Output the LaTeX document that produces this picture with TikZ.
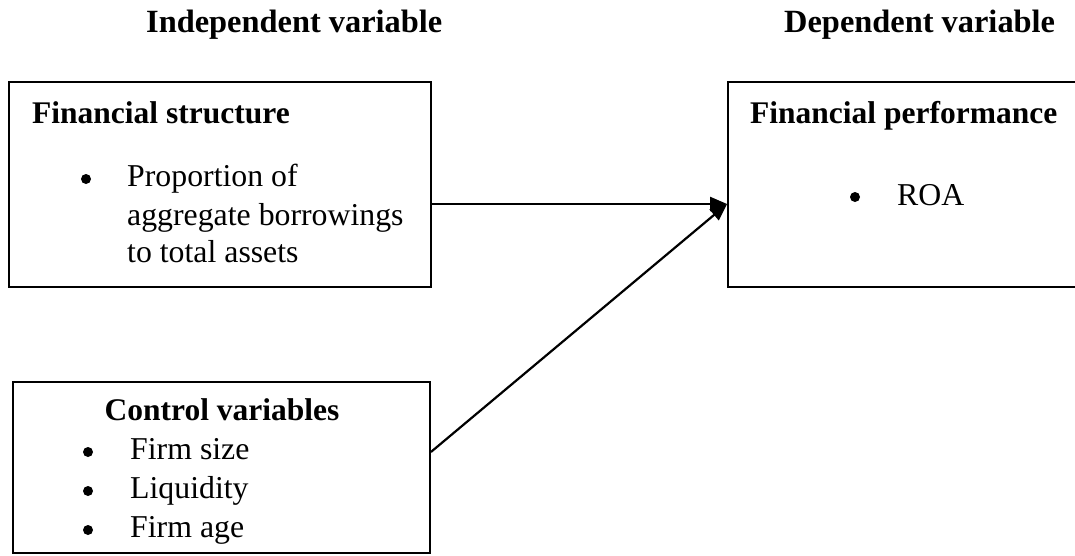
\documentclass[tikz,border=0pt]{standalone}
\usepackage{fontspec}
\setmainfont{Liberation Serif}
\usetikzlibrary{arrows.meta}
\begin{document}
\begin{tikzpicture}[x=1pt,y=-1pt,
  box/.style={draw,line width=1.8pt,inner sep=0pt,rectangle},
  txt/.style={anchor=base west,inner sep=0pt,font=\fontsize{31.8}{39}\selectfont},
  btxt/.style={txt,font=\fontsize{31.5}{39}\selectfont\bfseries},
  htxt/.style={txt,font=\fontsize{32.4}{39}\selectfont\bfseries},
  bul/.style={circle,fill,inner sep=0pt,minimum size=10pt},
  arr/.style={line width=2.2pt,-{Triangle[length=17pt,width=14pt]}}]
\useasboundingbox (0,0) rectangle (1075,555);
% headers
\node[htxt] (h1) at (146,32) {Independent variable};
\node[htxt] (h2) at (784,32) {Dependent variable};
% boxes
\node[box,minimum width=422pt,minimum height=205pt] (fs) at (220,184.5) {};
\node[box,minimum width=417pt,minimum height=171pt] (cv) at (221.5,467.5) {};
\node[box,minimum width=362pt,minimum height=205pt] (fp) at (909,184.5) {};
% financial structure text
\node[btxt] (fst) at (32,123) {Financial structure};
\node[bul] (b1) at (86,179) {};
\node[txt] (t1) at (127,186) {Proportion of};
\node[txt] (t2) at (127,225) {aggregate borrowings};
\node[txt] (t3) at (127,262) {to total assets};
% control variables text
\node[btxt,anchor=base] (cvt) at (222,420) {Control variables};
\node[bul] (b2) at (88,452) {};
\node[txt] (c1) at (130,459) {Firm size};
\node[bul] (b3) at (88,491) {};
\node[txt] (c2) at (130,498) {Liquidity};
\node[bul] (b4) at (88,530) {};
\node[txt] (c3) at (130,537) {Firm age};
% financial performance text
\node[btxt] (fpt) at (750,123) {Financial performance};
\node[bul] (b5) at (855,197) {};
\node[txt] (r1) at (897,205) {ROA};
% connectors
\coordinate (tip) at ([yshift=-19.5pt]fp.west);
\draw[arr] (fs.east |- tip) -- (tip);
\draw[arr] ([yshift=15.5pt]cv.east) -- (tip);
\end{tikzpicture}
\end{document}
